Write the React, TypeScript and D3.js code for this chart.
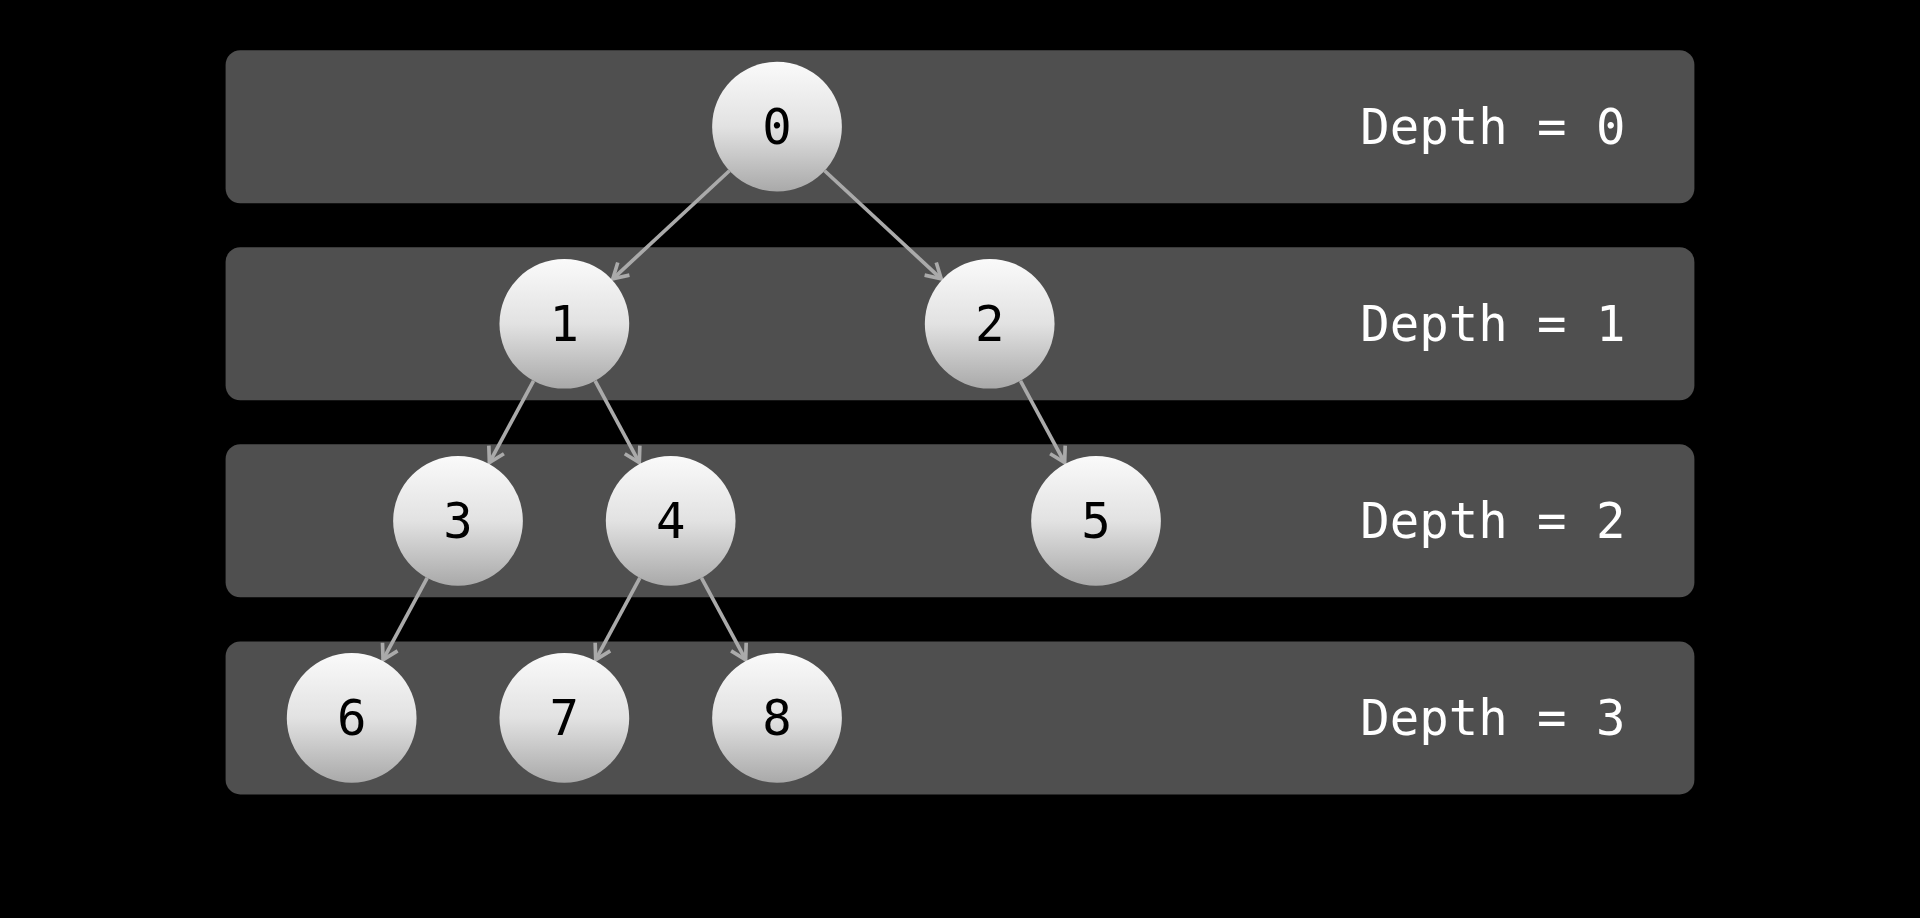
import React from "react";
import * as d3 from "d3";

const nodeIds = [0, 1, 2, 3, 4, 5, 6, 7, 8];
const nodeDepth = [0, 1, 1, 2, 2, 2, 3, 3, 3];
const nodeSlot = [4, 2, 6, 1, 3, 7, 0, 2, 4];
const edges: [number, number][] = [[0, 1], [0, 2], [1, 3], [1, 4], [2, 5], [3, 6], [4, 7], [4, 8]];
const depths = [0, 1, 2, 3];

export default function App() {
  const W = 1568, H = 750;
  const x = d3.scaleLinear().domain([0, 8]).range([287, 982]);
  const band = d3.scaleBand<number>().domain(depths).range([41, 649]).paddingInner(0.2236);
  const cy = (d: number) => band(d)! + band.bandwidth() / 2;
  const r = 53;
  return (
    <svg width={1920} height={918} viewBox={`0 0 ${W} ${H}`} style={{ position: "fixed", left: 0, top: 0, background: "#000" }}>
      <defs>
        <linearGradient id="g" x1="0" y1="0" x2="0" y2="1">
          <stop offset="0" stopColor="#fafafa" />
          <stop offset="0.5" stopColor="#e2e2e2" />
          <stop offset="1" stopColor="#a9a9a9" />
        </linearGradient>
        <marker id="arr" viewBox="-14 -9 16 18" refX="0" refY="0" markerWidth="16" markerHeight="18" markerUnits="userSpaceOnUse" orient="auto">
          <path d="M-12,-7 L0,0 L-12,7" fill="none" stroke="#aaa" strokeWidth="3" />
        </marker>
      </defs>
      <rect width={W} height={H} fill="#000" />
      {depths.map(d => (
        <g key={d}>
          <rect x={184} y={band(d)} width={1200} height={band.bandwidth()} rx={12} fill="#4f4f4f" />
          <text x={1111} y={cy(d)} dy="0.35em" fill="#fff" fontFamily="DejaVu Sans Mono" fontSize={40}>{`Depth = ${d}`}</text>
        </g>
      ))}
      {edges.map(([a, b]) => {
        const x1 = x(nodeSlot[a]), y1 = cy(nodeDepth[a]);
        const x2 = x(nodeSlot[b]), y2 = cy(nodeDepth[b]);
        const dx = x2 - x1, dy = y2 - y1, L = Math.hypot(dx, dy);
        const ux = dx / L, uy = dy / L;
        return <line key={`${a}-${b}`} x1={x1 + ux * r} y1={y1 + uy * r} x2={x2 - ux * (r + 1)} y2={y2 - uy * (r + 1)} stroke="#aaa" strokeWidth={3} markerEnd="url(#arr)" />;
      })}
      {nodeIds.map(i => (
        <g key={i}>
          <circle cx={x(nodeSlot[i])} cy={cy(nodeDepth[i])} r={r} fill="url(#g)" />
          <text x={x(nodeSlot[i])} y={cy(nodeDepth[i])} dy="0.35em" textAnchor="middle" fontFamily="DejaVu Sans Mono" fontSize={40} fill="#000">{i}</text>
        </g>
      ))}
    </svg>
  );
}
